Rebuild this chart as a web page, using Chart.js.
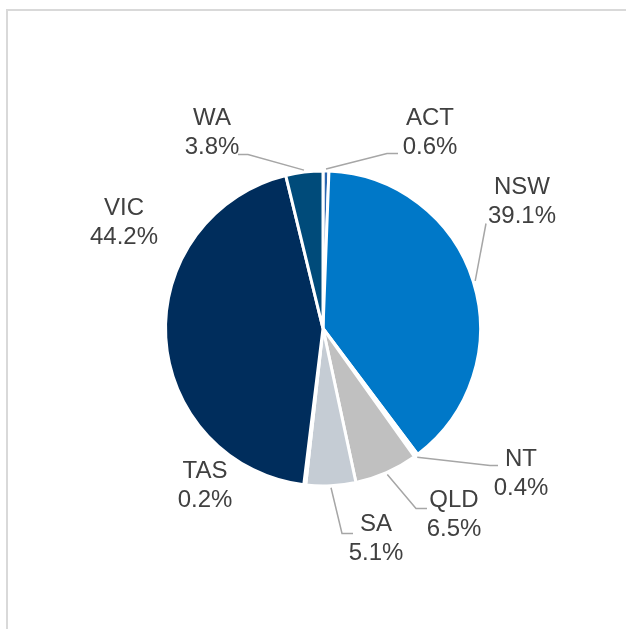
<!DOCTYPE html>
<html>
<head>
<meta charset="utf-8">
<script src="https://cdn.jsdelivr.net/npm/chart.js@4"></script>
<style>
  html, body { margin: 0; padding: 0; background: #fff; overflow: hidden; }
  #frame { position: absolute; left: 6px; top: 9px; width: 640px; height: 640px;
           border-left: 2px solid #d9d9d9; border-top: 2px solid #d9d9d9; }
  #wrap { position: absolute; left: 0; top: 0; width: 626px; height: 629px; }
</style>
</head>
<body>
<div id="frame"></div>
<div id="wrap"><canvas id="pieChart" width="626" height="629"></canvas></div>
<script>
// Datos: participación por estado
const states = ['ACT', 'NSW', 'NT', 'QLD', 'SA', 'TAS', 'VIC', 'WA'];
const shares = [0.6, 39.1, 0.4, 6.5, 5.1, 0.2, 44.2, 3.8];
const sliceColors = ['#2a66b0', '#0078c8', '#ffffff', '#c0c0c0', '#c5ccd4', '#1b365d', '#002d5c', '#004b7a'];

// Posición de las etiquetas relativa al centro del pastel (px)
// t = centro del texto, e = codo de la línea guía, f = final de la línea
const labelLayout = {
    ACT: { t: [107, -196], e: [64, -175], f: [75, -175] },
    NSW: { t: [199, -127], e: [163, -105], f: null },
    NT:  { t: [198, 145],  e: [167, 137],  f: [175, 137] },
    QLD: { t: [131, 186],  e: [93, 180],   f: [104, 180] },
    SA:  { t: [53, 210],   e: [19, 205],   f: [30, 205] },
    TAS: { t: [-118, 157], e: null,        f: null },
    VIC: { t: [-199, -106], e: null,       f: null },
    WA:  { t: [-111, -196], e: [-75, -174], f: [-85, -174] }
};

const labelsPlugin = {
    id: 'outsideLabels',
    afterDraw(chart) {
        const ctx = chart.ctx;
        const meta = chart.getDatasetMeta(0);
        ctx.save();
        meta.data.forEach((arc, i) => {
            const name = states[i];
            const lay = labelLayout[name];
            const cx = arc.x, cy = arc.y;
            const mid = (arc.startAngle + arc.endAngle) / 2;
            const r = arc.outerRadius + 2;

            if (lay.e) {
                ctx.strokeStyle = '#a6a6a6';
                ctx.lineWidth = 1.5;
                ctx.beginPath();
                ctx.moveTo(cx + Math.cos(mid) * r, cy + Math.sin(mid) * r);
                ctx.lineTo(cx + lay.e[0], cy + lay.e[1]);
                if (lay.f) ctx.lineTo(cx + lay.f[0], cy + lay.f[1]);
                ctx.stroke();
            }

            ctx.fillStyle = '#404040';
            ctx.font = '24px "Liberation Sans", Arial, sans-serif';
            ctx.textAlign = 'center';
            ctx.textBaseline = 'middle';
            const tx = cx + lay.t[0], ty = cy + lay.t[1];
            ctx.fillText(name, tx, ty - 14.5);
            ctx.fillText(shares[i].toFixed(1) + '%', tx, ty + 14.5);
        });
        ctx.restore();
    }
};

const ctx = document.getElementById('pieChart').getContext('2d');
const pieChart = new Chart(ctx, {
    type: 'pie',
    data: {
        labels: states,
        datasets: [{
            data: shares,
            backgroundColor: sliceColors,
            borderColor: '#ffffff',
            borderWidth: 3
        }]
    },
    options: {
        responsive: false,
        devicePixelRatio: 1,
        animation: false,
        layout: {
            padding: { left: 164, right: 144, top: 169, bottom: 141 }
        },
        plugins: {
            legend: { display: false },
            tooltip: { enabled: false }
        }
    },
    plugins: [labelsPlugin]
});
</script>
</body>
</html>
